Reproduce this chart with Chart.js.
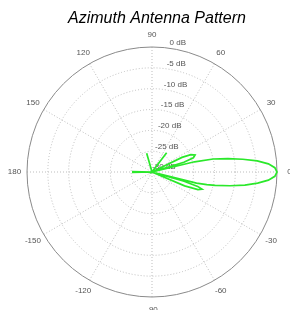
<!DOCTYPE html>
<html>
<head>
<meta charset="utf-8">
<script src="https://cdn.jsdelivr.net/npm/chart.js@4.4.1/dist/chart.umd.min.js"></script>
<style>
  html, body { margin: 0; padding: 0; background: #fff; }
  #wrap { width: 290px; height: 310px; }
</style>
</head>
<body>
<div id="wrap"><canvas id="chart"></canvas></div>
<script>
// Angle ticks around the rim (degrees, counter-clockwise from the right)
const angleTicks = [0, 30, 60, 90, 120, 150, 180, -150, -120, -90, -60, -30];
// Radial rings in dB, centre is the floor
const ringTicks = [-30, -25, -20, -15, -10, -5, 0];
const ringLabels = ['-30 dB', '-25 dB', '-20 dB', '-15 dB', '-10 dB', '-5 dB', '0 dB'];
const gainFloor = -30;

// Pattern: azimuth (deg) and gain (dB)
const patternAngle = [-180, -179, -176, -25, -23, -21, -19, -17.5, -16, -15,
  -14, -13, -12, -10, -8, -6, -4, -2, 0, 2, 4, 6, 8, 10, 12, 13.5, 15,
  17, 19, 21.5, 24, 26, 28, 50, 52.7, 55, 103.5, 105.8, 108, 176, 179, 180];
const patternGain = [-25.4, -25.4, -30, -30, -21.5, -18.2, -17.3, -18.5, -22, -30,
  -19, -16.5, -14.5, -11, -7.5, -4.5, -2, -0.5, 0, -0.5, -2, -4.6, -8, -11.5, -15, -19.5, -30,
  -22, -19.5, -18.9, -19.8, -22, -30, -30, -24.2, -30, -30, -25.3, -30, -30, -25.4, -25.4];

const patternPoints = patternAngle.map((a, i) => {
    const r = Math.max(patternGain[i] - gainFloor, 0);
    const t = a * Math.PI / 180;
    return { x: r * Math.cos(t), y: r * Math.sin(t) };
});

// Polar grid drawn on the cartesian scales
const polarGrid = {
    id: 'polarGrid',
    beforeDatasetsDraw(chart) {
        const ctx = chart.ctx;
        const xs = chart.scales.x, ys = chart.scales.y;
        const cx = xs.getPixelForValue(0), cy = ys.getPixelForValue(0);
        const rad = v => xs.getPixelForValue(v - gainFloor) - cx;
        const R = rad(0);

        ctx.save();
        // spokes
        ctx.strokeStyle = '#bdbdbd';
        ctx.lineWidth = 1;
        ctx.setLineDash([1, 2]);
        for (let a = 0; a < 180; a += 30) {
            const t = a * Math.PI / 180;
            ctx.beginPath();
            ctx.moveTo(cx - R * Math.cos(t), cy + R * Math.sin(t));
            ctx.lineTo(cx + R * Math.cos(t), cy - R * Math.sin(t));
            ctx.stroke();
        }
        // inner rings
        ringTicks.forEach(v => {
            if (v === gainFloor || v === 0) return;
            ctx.beginPath();
            ctx.arc(cx, cy, rad(v), 0, Math.PI * 2);
            ctx.stroke();
        });
        // outer rim
        ctx.setLineDash([]);
        ctx.strokeStyle = '#8a8a8a';
        ctx.beginPath();
        ctx.arc(cx, cy, R, 0, Math.PI * 2);
        ctx.stroke();

        // labels
        ctx.fillStyle = '#555';
        ctx.font = '8px "Liberation Sans", Arial, sans-serif';
        ctx.textAlign = 'center';
        ctx.textBaseline = 'middle';
        angleTicks.forEach(a => {
            const t = a * Math.PI / 180;
            ctx.fillText(String(a), cx + 1.1 * R * Math.cos(t), cy - 1.1 * R * Math.sin(t));
        });
        const t82 = 82 * Math.PI / 180;
        ctx.textAlign = 'left';
        ctx.textBaseline = 'bottom';
        ringTicks.forEach((v, i) => {
            const r = rad(v) + 1;
            ctx.fillText(ringLabels[i], cx + r * Math.cos(t82), cy - r * Math.sin(t82));
        });
        ctx.restore();
    }
};

new Chart(document.getElementById('chart'), {
    type: 'scatter',
    data: {
        datasets: [{
            data: patternPoints,
            showLine: true,
            borderColor: '#2ae82a',
            borderWidth: 1.7,
            pointRadius: 0,
            tension: 0
        }]
    },
    options: {
        responsive: true,
        maintainAspectRatio: false,
        animation: false,
        layout: { padding: { left: 27, right: 3, top: 0, bottom: 13 } },
        scales: {
            // right side runs a little past the rim so the title sits where it does
            x: { display: false, min: -30, max: 32.4 },
            y: { display: false, min: -30, max: 30 }
        },
        plugins: {
            legend: { display: false },
            tooltip: { enabled: false },
            title: {
                display: true,
                text: 'Azimuth Antenna Pattern',
                color: '#000',
                font: { family: '"Liberation Sans", Arial, sans-serif', size: 16, style: 'italic', weight: 'normal' },
                padding: { top: 9, bottom: 18.8 }
            }
        }
    },
    plugins: [polarGrid]
});
</script>
</body>
</html>
